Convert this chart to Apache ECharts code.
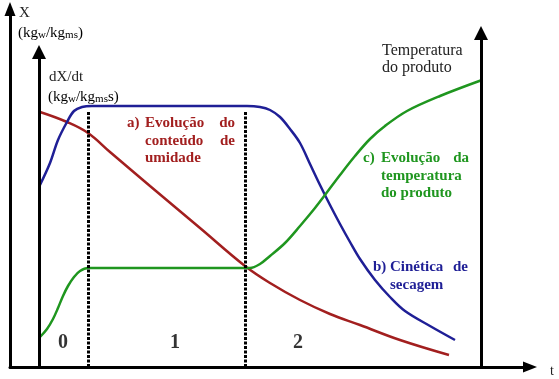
<!DOCTYPE html>
<html>
<head>
<meta charset="utf-8">
<script src="https://cdn.jsdelivr.net/npm/echarts@6/dist/echarts.min.js"></script>
<style>
html, body { margin: 0; padding: 0; background: #fff; }
#chart1 { width: 559px; height: 379px; }
</style>
</head>
<body>
<div id="chart1"></div>
<script>
// curvas: [t, valor] (unidades arbitrarias)
var umidade = [[30,255],[57,245],[78,234],[100,215],[140,181],[190,139],[235,101],[260,84],[290,67],[320,53],[350,42],[390,27],[439,12]];
var cinetica = [[30,182],[40,204],[48,227],[57,245],[64,256],[72,260],[82,261],[237,261],[250,260],[260,257],[270,250],[280,238],[290,224],[300,203],[310,182],[320,162],[330,143],[340,125],[350,108],[365,87],[380,70],[395,56],[420,41],[445,27]];
var temperatura = [[30,30],[37,38],[43,48],[48,59],[53,71],[58,81],[64,90],[70,96],[78,99],[240,99],[250,103],[260,111],[275,124],[290,141],[305,159],[315,172],[330,192],[345,211],[360,228],[375,241],[397,256],[430,271],[472,287]];

var fases = [78, 235];          // linhas pontilhadas entre periodos
var faseTopo = 255;
var periodos = ['0', '1', '2'];
var periodoPos = [[53,24],[165,24],[288,24]];

var eixoDxdt = [29, 315];       // eixo dX/dt  [t, topo]
var eixoTemp = [471, 334];      // eixo temperatura [t, topo]

var vermelho = '#a21f1f', azul = '#1f1f96', verde = '#1f961f';
var serif = '"Liberation Serif", "Times New Roman", serif';

const mychart1 = echarts.init(document.getElementById('chart1'));
mychart1.setOption(getOption1());

function txt(x, y, s, cor, peso, tam, alinha) {
    return {
        type: 'text', x: x, y: y, silent: true,
        style: {
            text: s, fill: cor, align: alinha || 'left', verticalAlign: 'middle',
            font: (peso || 'normal') + ' ' + (tam || 15) + 'px ' + serif
        }
    };
}

function rotulo(x, y, partes) {
    // partes: texto normal e subscrito alternados
    var s = '';
    partes.forEach(function (p, i) { s += '{' + (i % 2 ? 'b' : 'a') + '|' + p + '}'; });
    return {
        type: 'text', x: x, y: y, silent: true,
        style: {
            text: s, verticalAlign: 'middle',
            rich: {
                a: { fontSize: 15, fontFamily: serif, color: '#222', lineHeight: 17 },
                b: { fontSize: 11, fontFamily: serif, color: '#222', lineHeight: 17, padding: [4, 0, 0, 0] }
            }
        }
    };
}

function getOption1() {
    var eixo = {
        type: 'value',
        axisLine: { show: true, symbol: ['none', 'triangle'], symbolSize: [11, 14], lineStyle: { color: '#000', width: 3 } },
        axisTick: { show: false },
        axisLabel: { show: false },
        splitLine: { show: false }
    };
    var option = {
        backgroundColor: '#fff',
        animation: false,
        // a ponta da seta fica 7px alem do fim do eixo
        grid: { left: 10, right: 29, top: 9, bottom: 12 },
        xAxis: Object.assign({ min: 0, max: 520 }, eixo),
        yAxis: Object.assign({ min: 0, max: 358 }, eixo),
        series: [
            {
                type: 'line', data: umidade, smooth: 0.4, showSymbol: false,
                lineStyle: { color: vermelho, width: 2.5 },
                markLine: {
                    silent: true, symbol: ['none', 'triangle'], symbolSize: 14,
                    label: { show: false },
                    lineStyle: { color: '#000', width: 3, type: 'solid' },
                    data: [
                        [{ coord: [eixoDxdt[0], 0] }, { coord: [eixoDxdt[0], eixoDxdt[1]] }],
                        [{ coord: [eixoTemp[0], 0] }, { coord: [eixoTemp[0], eixoTemp[1]] }]
                    ]
                }
            },
            {
                type: 'line', data: cinetica, smooth: 0.35, showSymbol: false,
                lineStyle: { color: azul, width: 2.5 },
                markLine: {
                    silent: true, symbol: 'none',
                    label: { show: false },
                    lineStyle: { color: '#000', width: 3, type: [3, 1.5] },
                    data: fases.map(function (f) { return [{ coord: [f, 0] }, { coord: [f, faseTopo] }]; })
                }
            },
            {
                type: 'line', data: temperatura, smooth: 0.35, showSymbol: false,
                lineStyle: { color: verde, width: 2.5 }
            },
            {
                type: 'scatter', symbolSize: 1, itemStyle: { color: 'rgba(0,0,0,0)' },
                data: periodoPos.map(function (p, i) { return { value: p, name: periodos[i] }; }),
                label: {
                    show: true, position: 'inside', formatter: '{b}',
                    color: '#000', fontSize: 20, fontWeight: 'bold', fontFamily: serif
                }
            }
        ],
        graphic: [
            txt(19, 13, 'X', '#222'),
            rotulo(18, 33, ['(kg', 'w', '/kg', 'ms', ')']),
            txt(49, 77, 'dX/dt', '#222'),
            rotulo(48, 97, ['(kg', 'w', '/kg', 'ms', 's)']),
            txt(382, 51, 'Temperatura', '#222', 'normal', 16),
            txt(382, 68, 'do produto', '#222', 'normal', 16),
            txt(550, 371, 't', '#222', 'normal', 14),
            // a) umidade
            txt(127, 123, 'a)', vermelho, 'bold'),
            txt(145, 123, 'Evolução', vermelho, 'bold'),
            txt(235, 123, 'do', vermelho, 'bold', 15, 'right'),
            txt(145, 141, 'conteúdo', vermelho, 'bold'),
            txt(235, 141, 'de', vermelho, 'bold', 15, 'right'),
            txt(145, 158, 'umidade', vermelho, 'bold'),
            // c) temperatura
            txt(363, 158, 'c)', verde, 'bold'),
            txt(381, 158, 'Evolução', verde, 'bold'),
            txt(469, 158, 'da', verde, 'bold', 15, 'right'),
            txt(381, 176, 'temperatura', verde, 'bold'),
            txt(381, 193, 'do produto', verde, 'bold'),
            // b) cinetica
            txt(373, 267, 'b)', azul, 'bold'),
            txt(390, 267, 'Cinética', azul, 'bold'),
            txt(468, 267, 'de', azul, 'bold', 15, 'right'),
            txt(390, 285, 'secagem', azul, 'bold')
        ]
    };
    return option;
}
</script>
</body>
</html>
